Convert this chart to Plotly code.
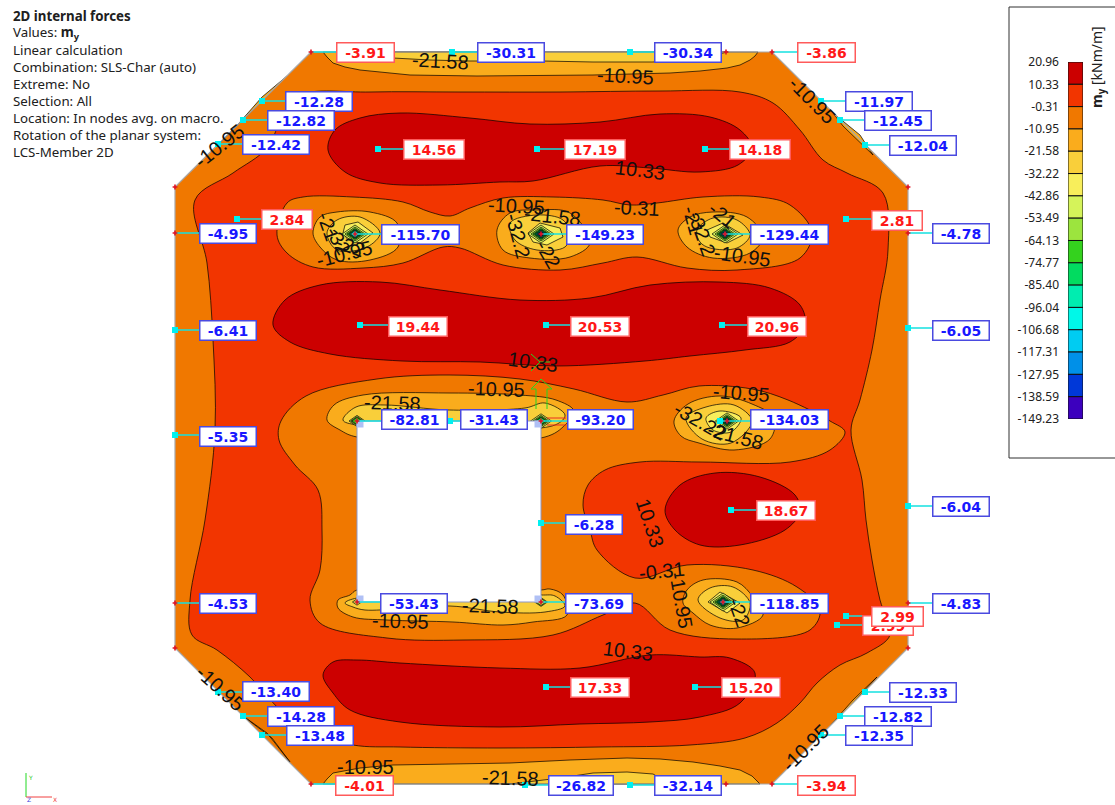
import plotly.graph_objects as go

# ---- legend ----
levels = [20.96, 10.33, -0.31, -10.95, -21.58, -32.22, -42.86, -53.49, -64.13, -74.77, -85.40, -96.04, -106.68, -117.31, -127.95, -138.59, -149.23]
level_text = ["20.96", "10.33", "-0.31", "-10.95", "-21.58", "-32.22", "-42.86", "-53.49", "-64.13", "-74.77", "-85.40", "-96.04", "-106.68", "-117.31", "-127.95", "-138.59", "-149.23"]
band_colors = ["#CC0000", "#F23500", "#F07800", "#FAAC1C", "#F9CF3A", "#F8EE5B", "#D5F35A", "#9CE43E", "#34D21E", "#02DB60", "#00EDB0", "#00F8E8", "#00CCF2", "#0090E8", "#0038D8", "#3C00BE"]

info_lines = ["<b>2D internal forces</b>", "Values: <b>m<sub>y</sub></b>", "Linear calculation", "Combination: SLS-Char (auto)", "Extreme: No", "Selection: All", "Location: In nodes avg. on macro.", "Rotation of the planar system:", "LCS-Member 2D"]

# ---- geometry of the member (model coordinates) ----
plate = [(311, 52), (772, 52), (908, 187), (908, 648), (772, 784), (311, 784), (175, 648), (175, 187), (311, 52)]
hole = [(357, 421), (541, 421), (541, 602), (357, 602), (357, 421)]
nodes = [(311, 52), (726, 52), (772, 52), (175, 187), (175, 233), (175, 603), (175, 648), (311, 784), (726, 784), (772, 784), (908, 648), (908, 603), (908, 233), (908, 187), (355, 234), (541, 234), (725, 234), (727, 421), (357, 421), (541, 421), (723, 602), (357, 602), (541, 602)]

# ---- isoband outlines: band index, then outline ----
band_red = [(300, 95), (370, 92), (460, 92), (560, 92), (660, 91), (740, 92), (773, 103), (800, 130), (823, 160), (847, 173), (883, 193), (888, 250), (880, 300), (872, 350), (860, 400), (851, 430), (862, 480), (866, 520), (872, 560), (880, 600), (890, 635), (867, 653), (840, 665), (817, 683), (800, 703), (777, 723), (745, 738), (690, 745), (600, 747), (500, 748), (400, 747), (353, 745), (305, 730), (280, 710), (250, 677), (217, 650), (192, 635), (190, 600), (205, 520), (215, 430), (213, 340), (207, 263), (195, 200), (233, 173), (267, 148), (283, 115)]
peak_top = [(328, 150), (335, 130), (360, 118), (400, 113), (470, 118), (530, 124), (600, 122), (660, 114), (710, 117), (740, 130), (752, 148), (738, 165), (700, 172), (650, 168), (600, 166), (533, 181), (500, 182), (440, 185), (380, 183), (345, 172)]
peak_mid = [(273, 325), (285, 300), (320, 285), (380, 282), (440, 290), (520, 300), (590, 298), (650, 285), (720, 282), (770, 288), (800, 305), (805, 325), (790, 342), (745, 350), (690, 356), (645, 361), (556, 366), (480, 362), (402, 361), (330, 354), (290, 342)]
peak_low = [(323, 675), (333, 662), (357, 660), (400, 663), (500, 668), (580, 668), (650, 655), (700, 657), (730, 658), (755, 673), (740, 703), (700, 717), (650, 722), (580, 724), (500, 727), (400, 722), (350, 710), (333, 693)]
peak_right = [(665, 510), (680, 485), (715, 473), (760, 477), (795, 495), (800, 512), (785, 530), (740, 545), (700, 545), (675, 530)]

orange_upper = [(277, 235), (287, 203), (303, 197), (353, 197), (403, 202), (430, 212), (450, 216), (470, 208), (503, 198), (553, 197), (603, 200), (630, 205), (657, 203), (703, 197), (760, 197), (790, 205), (812, 232), (800, 258), (737, 270), (687, 268), (637, 257), (603, 263), (560, 270), (503, 265), (460, 248), (443, 247), (403, 263), (363, 268), (313, 267), (287, 253)]
orange_lower = [(279, 440), (281, 421), (306, 396), (377, 379), (449, 375), (520, 379), (574, 389), (627, 402), (663, 395), (699, 386), (752, 389), (788, 400), (830, 421), (845, 432), (830, 450), (790, 462), (700, 462), (640, 462), (605, 470), (588, 485), (583, 505), (590, 530), (597, 550), (635, 578), (687, 565), (753, 570), (797, 587), (820, 610), (810, 630), (737, 639), (670, 630), (635, 603), (603, 615), (553, 635), (463, 640), (387, 638), (320, 623), (310, 600), (320, 570), (322, 530), (318, 490), (295, 465)]

strip_top = [(323, 52), (327, 57), (333, 63), (345, 67), (360, 70), (410, 75), (477, 76), (593, 75), (670, 73), (700, 71), (727, 68), (740, 65), (750, 60), (755, 56), (758, 52)]
strip_top_in = [(385, 52), (393, 58), (430, 60), (470, 61), (543, 61), (593, 62), (653, 62), (690, 58), (723, 53), (728, 52)]
strip_bot = [(323, 784), (327, 779), (333, 773), (360, 768), (393, 765), (450, 764), (510, 763), (570, 760), (627, 758), (660, 759), (693, 762), (720, 766), (740, 770), (752, 776), (760, 784)]
strip_bot_in = [(510, 784), (535, 781), (560, 778), (593, 773), (627, 772), (653, 774), (660, 778), (665, 784)]
sliver_a = [(287, 76), (262, 97), (240, 122), (217, 146)]
sliver_b = [(833, 113), (843, 126), (873, 155), (860, 135)]
sliver_c = [(243, 716), (267, 733), (290, 762), (272, 738)]
sliver_d = [(830, 726), (853, 700), (877, 677), (850, 706)]

hot1_y = [(313, 233), (320, 217), (337, 212), (370, 212), (397, 223), (398, 247), (370, 260), (337, 260), (320, 247)]
hot1_l = [(327, 233), (337, 220), (360, 217), (380, 233), (367, 247), (337, 250)]
hot1_p = [(343, 233), (345, 225), (358, 222), (373, 233), (360, 243), (348, 240)]
hot2_y = [(497, 230), (510, 213), (537, 210), (570, 213), (590, 243), (570, 257), (530, 258), (503, 250)]
hot2_l = [(510, 223), (537, 215), (563, 220), (570, 235), (565, 247), (537, 250), (515, 240)]
hot2_p = [(528, 233), (540, 223), (560, 228), (563, 237), (547, 245), (533, 242)]
hot3_y = [(678, 230), (690, 217), (713, 212), (747, 217), (763, 237), (750, 253), (713, 258), (687, 247)]
hot3_l = [(697, 230), (713, 218), (737, 220), (750, 235), (737, 248), (710, 248), (700, 242)]
hot3_p = [(707, 230), (723, 223), (743, 235), (727, 243), (710, 237)]
hot4_y = [(674, 421), (688, 404), (720, 396), (752, 404), (774, 418), (770, 439), (734, 450), (699, 443), (681, 436)]
hot4_l = [(686, 418), (706, 407), (734, 405), (752, 421), (731, 443), (702, 439)]
hot4_p = [(706, 418), (720, 411), (741, 418), (731, 432), (713, 430)]
hot5_y = [(683, 603), (687, 590), (703, 580), (737, 582), (753, 597), (763, 615), (737, 628), (710, 625), (693, 613)]
hot5_l = [(698, 600), (710, 588), (733, 587), (750, 603), (743, 620), (720, 618)]
hot5_p = [(708, 602), (720, 592), (740, 603), (727, 613)]
hole_top_y = [(327, 420), (334, 405), (363, 395), (449, 393), (520, 395), (556, 400), (574, 411), (565, 425), (545, 437), (357, 437), (340, 430)]
hole_top_l = [(343, 420), (356, 407), (385, 405), (449, 410), (525, 408), (545, 403), (565, 415), (555, 425), (357, 425)]
hole_bot_y = [(338, 600), (350, 595), (357, 590), (541, 590), (550, 589), (563, 595), (567, 615), (533, 622), (503, 625), (453, 622), (387, 620), (353, 617), (338, 608)]
hole_bot_l = [(345, 603), (357, 598), (541, 595), (555, 596), (565, 606), (545, 612), (500, 612), (450, 606), (365, 610), (353, 607)]

# (band index, outline, smooth?)
regions = [
    (1, band_red, True), (0, peak_top, True), (0, peak_mid, True), (0, peak_low, True), (0, peak_right, True),
    (2, orange_upper, True), (2, orange_lower, True),
    (3, strip_top, False), (4, strip_top_in, False), (3, strip_bot, False), (4, strip_bot_in, False),
    (3, sliver_a, False), (3, sliver_b, False), (3, sliver_c, False), (3, sliver_d, False),
    (3, hot1_y, True), (4, hot1_l, True), (5, hot1_p, False),
    (3, hot2_y, True), (4, hot2_l, True), (5, hot2_p, False),
    (3, hot3_y, True), (4, hot3_l, True), (5, hot3_p, False),
    (3, hot4_y, True), (4, hot4_l, True), (5, hot4_p, True),
    (3, hot5_y, True), (4, hot5_l, True), (5, hot5_p, False),
    (3, hole_top_y, True), (4, hole_top_l, True), (3, hole_bot_y, True), (4, hole_bot_l, True),
]

# nested rings of the force peaks: centre, number of bands, size
peak_x = [355, 541, 725, 727, 723, 357, 541, 357, 541]
peak_y = [234, 234, 234, 421, 602, 421, 421, 602, 602]
peak_rings = [6, 10, 8, 8, 7, 3, 4, 1, 2]
peak_size = [1.0, 1.0, 1.0, 0.9, 1.0, 0.8, 0.8, 0.7, 0.8]
ring_rx = [13, 10, 8, 6.5, 5.5, 4.5, 3.8, 3.2, 2.6, 2]
ring_ry = [9, 7, 5.5, 4.5, 3.8, 3.2, 2.7, 2.3, 1.9, 1.5]

# ---- value boxes ----
label_text = ["-3.91", "-30.31", "-30.34", "-3.86", "-12.28", "-12.82", "-12.42", "14.56", "17.19", "14.18", "-11.97", "-12.45", "-12.04", "2.84", "2.81", "-4.95", "-115.70", "-149.23", "-129.44", "-4.78", "-6.41", "19.44", "20.53", "20.96", "-6.05", "-5.35", "-82.81", "-31.43", "-93.20", "-134.03", "-6.28", "18.67", "-6.04", "-4.53", "-53.43", "-73.69", "-118.85", "-4.83", "2.99", "2.99", "17.33", "15.20", "-13.40", "-14.28", "-13.48", "-12.33", "-12.82", "-12.35", "-4.01", "-26.82", "-32.14", "-3.94"]
label_ax = [311, 452, 630, 772, 262, 243, 218, 378, 537, 705, 821, 840, 865, 237, 846, 175, 355, 541, 725, 908, 175, 360, 546, 722, 908, 175, 357, 450, 541, 720, 541, 731, 908, 175, 357, 541, 723, 908, 837, 846, 546, 695, 218, 243, 262, 865, 840, 821, 311, 525, 630, 772]
label_ay = [52, 52, 52, 52, 101, 120, 144, 149, 149, 149, 101, 120, 145, 219, 219, 233, 234, 234, 234, 233, 330, 325, 325, 325, 328, 435, 421, 421, 421, 421, 523, 510, 506, 603, 602, 602, 602, 603, 625, 616, 687, 687, 692, 716, 735, 692, 716, 735, 784, 785, 785, 784]
label_bx = [365, 511, 688, 826, 319, 301, 276, 434, 595, 760, 879, 898, 923, 287, 897, 228, 420, 605, 789, 961, 228, 418, 600, 777, 961, 228, 414, 494, 600, 789, 594, 786, 961, 228, 414, 599, 789, 961, 888, 897, 600, 751, 276, 301, 320, 923, 898, 879, 364, 581, 688, 826]
label_by = [52, 52, 52, 52, 101, 120, 144, 149, 149, 149, 101, 120, 145, 219, 220, 233, 234, 234, 234, 233, 330, 326, 326, 326, 330, 436, 419, 419, 419, 419, 524, 510, 506, 603, 603, 603, 603, 603, 625, 616, 687, 687, 691, 716, 735, 692, 716, 735, 785, 785, 785, 785]
label_w = [59, 68, 68, 59, 68, 68, 68, 62, 62, 62, 68, 68, 68, 52, 52, 58, 79, 78, 79, 58, 58, 60, 60, 60, 58, 58, 67, 68, 67, 79, 58, 60, 58, 58, 68, 68, 79, 58, 52, 53, 60, 60, 68, 68, 68, 68, 68, 68, 59, 66, 68, 59]
label_red = ["-3.91", "-3.86", "-4.01", "-3.94", "14.56", "17.19", "14.18", "2.84", "2.81", "19.44", "20.53", "20.96", "18.67", "2.99", "17.33", "15.20"]

# ---- isoline captions ----
iso_text = ["-21.58", "-10.95", "-10.95", "-10.95", "10.33", "-0.31", "-10.95", "-21.58", "-21", "-21", "-32", "-10.95", "-32.2", "-22", "-21", "-32.2", "-10.95", "10.33", "-10.95", "-21.58", "-10.95", "-32.22", "-21.58", "-21.58", "-10.95", "-0.31", "-10.95", "10.33", "10.33", "-10.95", "-21.58", "-10.95", "-10.95", "-22", "-22"]
iso_x = [440, 625, 812, 219, 640, 637, 516, 552, 328, 722, 338, 344, 518, 548, 693, 702, 742, 533, 496, 392, 741, 700, 735, 490, 400, 662, 681, 650, 628, 365, 510, 220, 805, 739, 350]
iso_y = [61, 76, 100, 146, 170, 208, 206, 216, 226, 215, 240, 254, 236, 254, 220, 234, 256, 362, 389, 403, 393, 421, 436, 606, 621, 571, 600, 523, 651, 767, 778, 688, 748, 612, 246]
iso_a = [3, 3, 45, -38, 7, 3, 3, 6, 70, 40, 60, -14, 75, 60, 75, 70, 8, 8, 2, 2, 4, 30, 15, 2, 2, -6, 80, 72, 7, 0, 2, 42, -45, 70, 20]

# ---- build the figure ----
PLOT = dict(xaxis="x", yaxis="y", hoverinfo="skip", showlegend=False)


def add_poly(points, color, smooth=True, line="rgba(0,0,0,0.78)", width=0.9):
    pts = list(points)
    if pts[0] != pts[-1]:
        pts.append(pts[0])
    fig.add_trace(go.Scatter(
        x=[p[0] for p in pts], y=[p[1] for p in pts], mode="lines", fill="toself", fillcolor=color,
        line=dict(color=line, width=width, shape="spline" if smooth else "linear", smoothing=1.0), **PLOT))


fig = go.Figure()
add_poly(plate, band_colors[2], False, "rgba(0,0,0,0)", 0)
for band, outline, smooth in regions:
    add_poly(outline, band_colors[band], smooth)

for cx, cy, rings, size in zip(peak_x, peak_y, peak_rings, peak_size):
    for k in range(rings):
        shift = max(0, 4 - rings)
        rx, ry = ring_rx[k + shift] * size, ring_ry[k + shift] * size
        add_poly([(cx - rx, cy), (cx, cy - ry), (cx + rx, cy), (cx, cy + ry)], band_colors[k + 6], False, "rgba(0,0,0,0.85)", 0.8)

# plate edge and opening
fig.add_trace(go.Scatter(x=[p[0] for p in plate], y=[p[1] for p in plate], mode="lines",
                         line=dict(color="#A8A8A8", width=1.2), **PLOT))
add_poly(hole, "#FFFFFF", False, "#8C97C8", 1)
fig.add_trace(go.Scatter(x=[360, 538, 360, 538], y=[424, 424, 599, 599], mode="markers",
                         marker=dict(symbol="square", size=7, color="#B0C0F5"), **PLOT))

# green arrows and red bars at the opening corner
gx = [536, 536, 531, 541, 552, 547, 547, None, 531, 540, 531, None, 540, 550]
gy = [409, 389, 389, 379, 389, 389, 409, None, 354, 362, 371, None, 362, 362]
fig.add_trace(go.Scatter(x=gx, y=gy, mode="lines", line=dict(color="#22D822", width=1), **PLOT))
fig.add_trace(go.Scatter(x=[547, 566, None, 547, 566], y=[418, 418, None, 425, 425], mode="lines",
                         line=dict(color="#E83020", width=1), **PLOT))

# leader lines
lx, ly = [], []
for ax, ay, bx, by in zip(label_ax, label_ay, label_bx, label_by):
    lx += [ax, bx, None]
    ly += [ay, ay, None]
fig.add_trace(go.Scatter(x=lx, y=ly, mode="lines", line=dict(color="#14E0E0", width=1.3), **PLOT))
free = [(a, b) for a, b in zip(label_ax, label_ay) if (a, b) not in nodes]
fig.add_trace(go.Scatter(x=[p[0] for p in free], y=[p[1] for p in free], mode="markers",
                         marker=dict(symbol="square", size=6, color="#00F0F0"), **PLOT))
fig.add_trace(go.Scatter(x=[p[0] for p in nodes], y=[p[1] for p in nodes], mode="markers",
                         marker=dict(symbol="cross", size=4, color="#E01020"), **PLOT))

# coordinate triad
fig.add_trace(go.Scatter(x=[26, 26], y=[773, 797], mode="lines", line=dict(color="#22D822", width=1), **PLOT))
fig.add_trace(go.Scatter(x=[26, 52], y=[797, 797], mode="lines", line=dict(color="#F04040", width=1), **PLOT))

# legend colour column on its own axis
fig.add_trace(go.Bar(
    x=[0] * len(band_colors), y=[levels[i] - levels[i + 1] for i in range(len(band_colors))],
    base=levels[1:], width=1, marker=dict(color=band_colors, line=dict(color="#101010", width=1)),
    xaxis="x2", yaxis="y2", hoverinfo="skip", showlegend=False))

ann = []
for text, x, y, a in zip(iso_text, iso_x, iso_y, iso_a):
    ann.append(dict(x=x, y=y, xref="x", yref="y", text=text, textangle=a, showarrow=False,
                    font=dict(family="Liberation Sans", size=20, color="#101010")))
for text, x, y, w in zip(label_text, label_bx, label_by, label_w):
    is_red = text in label_red
    ann.append(dict(x=x, y=y, xref="x", yref="y", text="<b>%s</b>" % text, showarrow=False,
                    width=w - 3, height=18, borderpad=0, borderwidth=1.5, align="center",
                    bgcolor="#FFFFFF", bordercolor="#FF5A5A" if is_red else "#4A4AE0",
                    font=dict(family="DejaVu Sans", size=14, color="#FF1818" if is_red else "#1818FF")))
for i, line in enumerate(info_lines):
    ann.append(dict(x=11, y=16 + 17 * i, xref="x", yref="y", text=line, showarrow=False, xanchor="left",
                    font=dict(family="Noto Sans", size=13.3, color="#202020")))
ann.append(dict(x=1097, y=67, xref="x", yref="y", text="<b>m<sub>y</sub></b> [kNm/m]", textangle=-90, showarrow=False,
                font=dict(family="Noto Sans", size=14, color="#202020")))
for t, x, y, c in [("Y", 30, 777, "#22C822"), ("X", 55, 799, "#F04040"), ("Z", 29, 799, "#4040E0")]:
    ann.append(dict(x=x, y=y, xref="x", yref="y", text=t, showarrow=False, font=dict(family="DejaVu Sans", size=6, color=c)))

fig.update_layout(
    width=1115, height=805, margin=dict(l=0, r=0, t=0, b=0, pad=0, autoexpand=False), autosize=False,
    paper_bgcolor="white", plot_bgcolor="white", barmode="overlay",
    xaxis=dict(domain=[0, 1], range=[0, 1115], visible=False),
    yaxis=dict(domain=[0, 1], range=[805, 0], visible=False),
    xaxis2=dict(domain=[1068 / 1115, 1083 / 1115], range=[-0.5, 0.5], visible=False, anchor="y2"),
    yaxis2=dict(domain=[1 - 419 / 805, 1 - 62 / 805], range=[-149.23, 20.96], anchor="x2", side="left",
                tickmode="array", tickvals=levels, ticktext=level_text, ticks="", showgrid=False, zeroline=False,
                showline=False, ticklabelstandoff=8, tickfont=dict(family="Noto Sans", size=12, color="#202020")),
    shapes=[dict(type="rect", xref="x", yref="y", x0=1009, x1=1125, y0=7, y1=458,
                 line=dict(color="#303030", width=1), fillcolor="rgba(0,0,0,0)", layer="below")],
    annotations=ann,
)
fig.write_html("out.html", config=dict(displayModeBar=False),
               post_script="document.body.style.margin='0';document.body.style.overflow='hidden';")
